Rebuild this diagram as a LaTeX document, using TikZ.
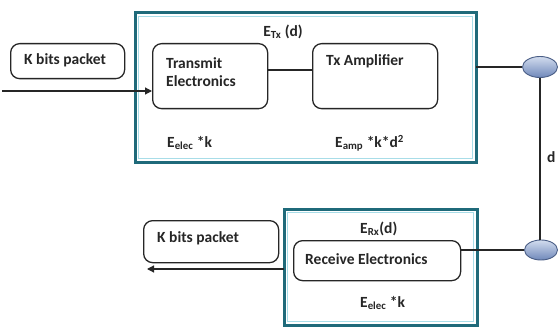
\documentclass[tikz,border=0pt]{standalone}
\usepackage{fontspec}
\setmainfont{Carlito}
\usetikzlibrary{arrows.meta,shapes.geometric}
\definecolor{tealdark}{HTML}{1F6A7A}
\definecolor{teallight}{HTML}{A8DDE8}
\definecolor{elfill1}{HTML}{D2DCEE}
\definecolor{elfill2}{HTML}{6F88BA}
\definecolor{eldraw}{HTML}{4A5E86}
\begin{document}
\begin{tikzpicture}[x=1pt,y=-1pt,
  font=\fontsize{15.5}{18.5}\selectfont\bfseries,
  rbox/.style={draw=black!85, line width=1.3pt, rounded corners=9pt, inner sep=0pt, anchor=north west},
  antenna/.style={ellipse, draw=eldraw, line width=0.9pt, top color=elfill1, bottom color=elfill2, inner sep=0pt},
  wire/.style={draw=black!85, line width=1.2pt},
  arr/.style={wire, -{Triangle[length=7pt,width=7pt]}},
  txt/.style={inner sep=0pt, anchor=west, text=black!85}
]
\useasboundingbox[fill=white] (0,0) rectangle (560,329);

% top transmitter block
\draw[draw=tealdark, line width=3pt] (135,13) rectangle (476,162);
\draw[draw=teallight, line width=1.5pt] (138.5,16.5) rectangle (472.5,158.5);
\node[inner sep=0pt, minimum width=341pt, minimum height=149pt, anchor=north west] (txouter) at (135,13) {};

\node[rbox, minimum width=114pt, minimum height=35pt] (kin) at (10,43) {};
\node[txt] (kintxt) at (24,60) {K bits packet};

\node[rbox, minimum width=115pt, minimum height=65pt] (trans) at (152,43) {};
\node[txt, align=left] (transtxt) at (166,72) {Transmit\\Electronics};

\node[rbox, minimum width=125pt, minimum height=65pt] (amp) at (312,43) {};
\node[txt] (amptxt) at (326,61) {Tx Amplifier};

\node[inner sep=0pt, text=black!85] (etx) at (283,32) {E\textsubscript{Tx} (d)};
\node[txt] (eelec1) at (167,143) {E\textsubscript{elec} *k};
\node[txt] (eamp) at (335,143) {E\textsubscript{amp} *k*d\textsuperscript{2}};

\coordinate (yl) at (0,70);
\coordinate (yin) at (2,91);
\draw[wire] (trans.east |- yl) -- (amp.west |- yl);
\draw[arr] (yin) -- (trans.west |- yin);

% antennas
\node[antenna, minimum width=35pt, minimum height=21pt] (e1) at (540,67) {};
\node[antenna, minimum width=33pt, minimum height=20pt] (e2) at (541,250) {};
\draw[wire] (txouter.east |- e1.west) -- (e1.west);
\draw[wire] (e1.south -| 540,0) -- (e2.north -| 540,0);
\node[txt] (dlbl) at (547,157) {d};

% bottom receiver block
\draw[draw=tealdark, line width=3pt] (284,209) rectangle (477,325);
\draw[draw=teallight, line width=1.5pt] (287.5,212.5) rectangle (473.5,321.5);
\node[inner sep=0pt, minimum width=193pt, minimum height=116pt, anchor=north west] (rxouter) at (284,209) {};

\node[rbox, minimum width=167pt, minimum height=40pt] (rec) at (293,240) {};
\node[txt] (rectxt) at (305,259) {Receive Electronics};
\node[txt] (erx) at (360,229) {E\textsubscript{Rx}(d)};
\node[txt] (eelec2) at (360,303) {E\textsubscript{elec} *k};

\node[rbox, minimum width=135pt, minimum height=42pt] (kout) at (143,220) {};
\node[txt] (kouttxt) at (157,238) {K bits packet};

\coordinate (yout) at (147,269);
\draw[wire] (rec.east |- e2.west) -- (e2.west);
\draw[arr] (rxouter.west |- yout) -- (yout);
\end{tikzpicture}
\end{document}
